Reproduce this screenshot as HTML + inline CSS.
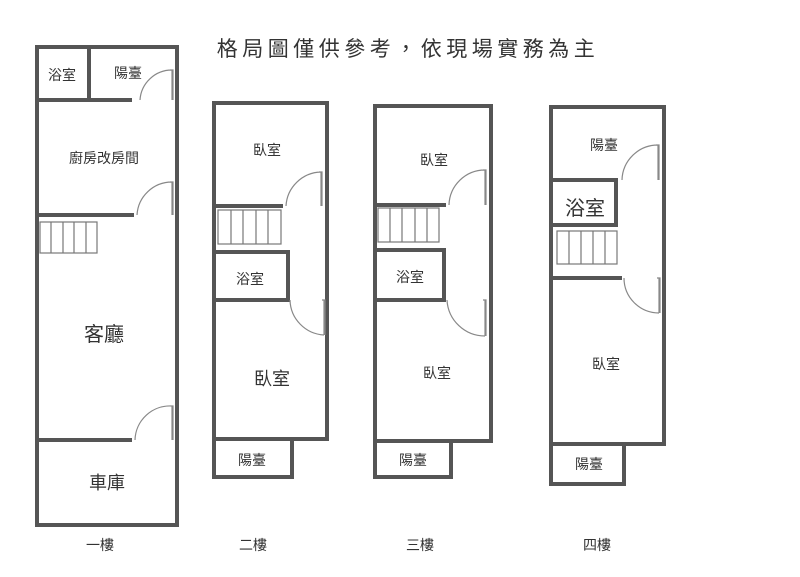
<!DOCTYPE html>
<html><head><meta charset="utf-8"><style>
html,body{margin:0;padding:0;background:#fff;}
svg{display:block}
text{font-family:"Liberation Sans","Noto Sans CJK TC",sans-serif;fill:#333}
</style></head><body>
<svg width="800" height="577" viewBox="0 0 800 577" xmlns="http://www.w3.org/2000/svg">
<g fill="none" stroke="#555" stroke-width="4">
<rect x="37" y="47" width="140" height="478"/>
<line x1="89" y1="47" x2="89" y2="100"/>
<line x1="37" y1="100" x2="132" y2="100"/>
<line x1="37" y1="215" x2="134" y2="215"/>
<line x1="37" y1="440" x2="132" y2="440"/>
<rect x="214" y="103" width="113" height="336"/>
<line x1="214" y1="206" x2="283" y2="206"/>
<polyline points="214,252 288,252 288,300 214,300"/>
<polyline points="214,439 214,477 292,477 292,439"/>
<rect x="375" y="106" width="116" height="335"/>
<line x1="375" y1="205" x2="446" y2="205"/>
<polyline points="375,250 444,250 444,300 375,300"/>
<polyline points="375,441 375,477 451,477 451,441"/>
<rect x="551" y="107" width="113" height="337"/>
<polyline points="551,180 616,180 616,225 551,225"/>
<line x1="551" y1="278" x2="622" y2="278"/>
<polyline points="551,444 551,484 624,484 624,444"/>
</g>
<g fill="none" stroke="#777" stroke-width="1.2">
<rect x="40" y="222" width="57" height="31"/><path d="M51 222v31M63 222v31M74 222v31M86 222v31"/>
<rect x="218" y="210" width="63" height="34"/><path d="M231 210v34M243 210v34M256 210v34M268 210v34"/>
<rect x="378" y="208" width="61" height="34"/><path d="M390 208v34M402 208v34M415 208v34M427 208v34"/>
<rect x="557" y="231" width="60" height="33"/><path d="M569 231v33M581 231v33M593 231v33M605 231v33"/>
</g>
<g fill="none" stroke="#888" stroke-width="1.2">
<path d="M140 100 A32 32 0 0 1 172 70 M172 70v30 M170 70h3v30"/>
<path d="M137 215 A35 35 0 0 1 172 182 M172 182v33 M170 182h3v33"/>
<path d="M135 440 A35 35 0 0 1 172 406 M172 406v34 M170 406h3v34"/>
<path d="M286 206 A36 36 0 0 1 321 172 M321 172v34 M319 172h3v34"/>
<path d="M290 300 A36 36 0 0 0 324 335 M324 300v35 M322 300h3v35"/>
<path d="M449 205 A36 36 0 0 1 485 170 M485 170v35 M483 170h3v35"/>
<path d="M447 300 A38 38 0 0 0 485 336 M485 300v36 M483 300h3v36"/>
<path d="M622 180 A36 36 0 0 1 658 145 M658 145v35 M656 145h3v35"/>
<path d="M624 278 A35 35 0 0 0 659 313 M659 278v35 M657 278h3v35"/>
</g>
<text x="408" y="56" font-size="21" letter-spacing="4.5" text-anchor="middle">格局圖僅供參考，依現場實務為主</text>
<g font-size="14" text-anchor="middle">
<text x="62" y="80">浴室</text><text x="128" y="78">陽臺</text>
<text x="104" y="163">廚房改房間</text>
<text x="104" y="341" font-size="20">客廳</text>
<text x="107" y="489" font-size="18">車庫</text>
<text x="267" y="155">臥室</text><text x="250" y="284">浴室</text>
<text x="272" y="385" font-size="18">臥室</text><text x="252" y="465">陽臺</text>
<text x="434" y="165">臥室</text><text x="410" y="282">浴室</text>
<text x="437" y="378">臥室</text><text x="413" y="465">陽臺</text>
<text x="604" y="150">陽臺</text><text x="585" y="215" font-size="20">浴室</text>
<text x="606" y="369">臥室</text><text x="589" y="469">陽臺</text>
<text x="100" y="550">一樓</text><text x="253" y="550">二樓</text>
<text x="420" y="550">三樓</text><text x="597" y="550">四樓</text>
</g>
</svg>
</body></html>
